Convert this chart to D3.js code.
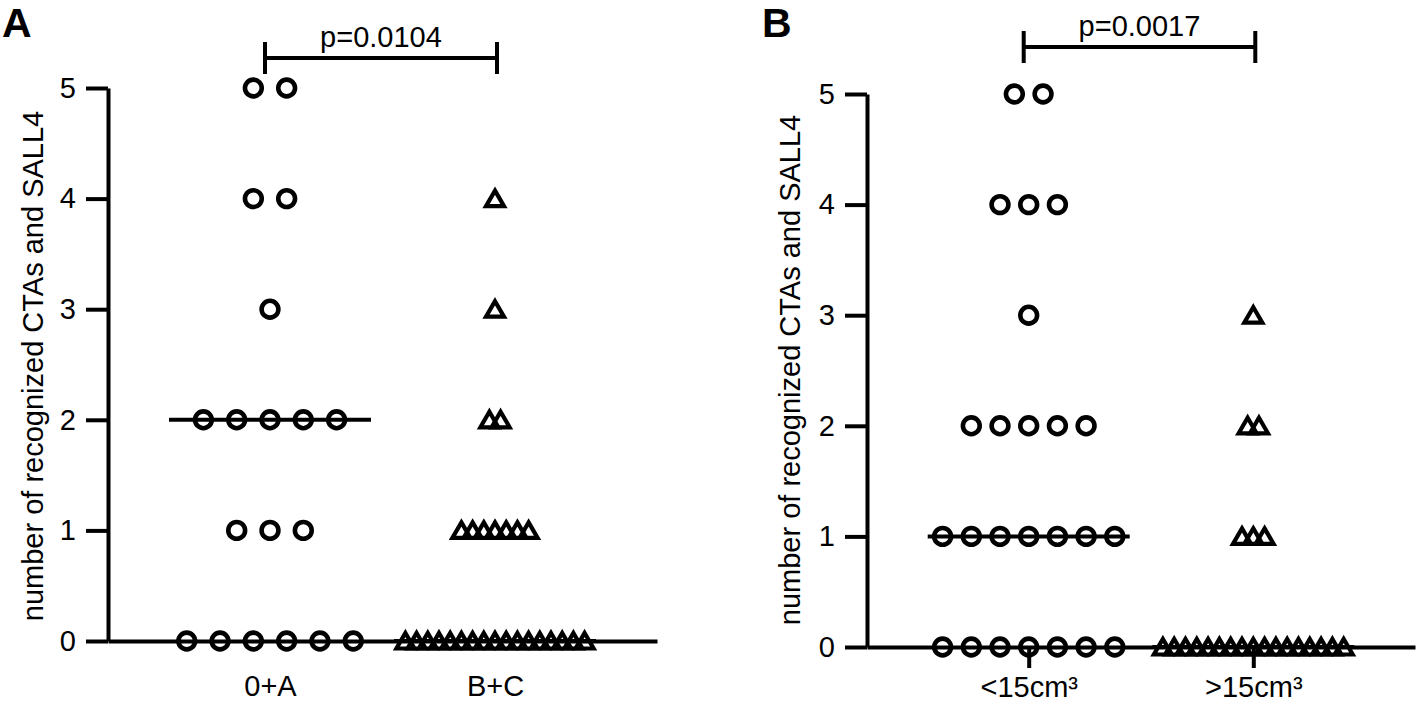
<!DOCTYPE html>
<html>
<head>
<meta charset="utf-8">
<script src="https://cdn.jsdelivr.net/npm/d3@7"></script>
<style>
  body { margin: 0; background: #fff; }
  text { font-family: "Liberation Sans", Arial, sans-serif; fill: #000; }
</style>
</head>
<body>
<svg id="chart" width="1418" height="705"></svg>
<script>
// data
const yTicks = [0, 1, 2, 3, 4, 5];
const yLabel = "number of recognized CTAs and SALL4";

const catsA = ["0+A", "B+C"];
const pA = "p=0.0104";
const groupA1 = [0, 0, 0, 0, 0, 0, 1, 1, 1, 2, 2, 2, 2, 2, 3, 4, 4, 5, 5];
const groupA2 = [0, 0, 0, 0, 0, 0, 0, 0, 0, 0, 0, 0, 0, 0, 0, 0, 0,
                 1, 1, 1, 1, 1, 1, 1, 2, 2, 3, 4];

const catsB = ["<15cm³", ">15cm³"];
const pB = "p=0.0017";
const groupB1 = [0, 0, 0, 0, 0, 0, 0, 1, 1, 1, 1, 1, 1, 1, 2, 2, 2, 2, 2, 3, 4, 4, 4, 5, 5];
const groupB2 = [0, 0, 0, 0, 0, 0, 0, 0, 0, 0, 0, 0, 0, 0, 0, 0, 0,
                 1, 1, 1, 2, 2, 3];

const svg = d3.select("#chart");
const LW = 4;

function triPath() {
  return "M0,-8L9,7.5L-9,7.5Z";
}

function drawPanel(opt) {
  const g = svg.append("g");

  const x = d3.scalePoint()
    .domain(opt.cats)
    .range([opt.left, opt.right])
    .padding(0.72);

  const y = d3.scaleLinear()
    .domain([0, 5])
    .range([opt.bottom, opt.top]);

  // y axis
  const yAxis = g.append("g")
    .attr("transform", "translate(" + opt.left + ",0)")
    .call(d3.axisLeft(y).tickValues(yTicks).tickFormat(d3.format("d"))
      .tickSize(22).tickSizeOuter(0).tickPadding(10));
  yAxis.select(".domain").attr("stroke-width", LW);
  yAxis.selectAll(".tick line").attr("stroke-width", LW);
  yAxis.selectAll(".tick text").style("font-size", "29px");

  // x axis
  const xAxis = g.append("g")
    .attr("transform", "translate(0," + opt.bottom + ")")
    .call(d3.axisBottom(x).tickSize(opt.xTick).tickSizeOuter(0).tickPadding(opt.xPad));
  xAxis.select(".domain").attr("stroke-width", LW);
  xAxis.selectAll(".tick line").attr("stroke-width", LW);
  xAxis.selectAll(".tick text").style("font-size", "29px");

  // y label
  g.append("text")
    .attr("transform", "translate(" + opt.labelX + "," + opt.labelY + ") rotate(-90)")
    .attr("text-anchor", "middle")
    .attr("dominant-baseline", "central")
    .style("font-size", "29px")
    .text(yLabel);

  // panel letter
  g.append("text")
    .attr("x", opt.letterX)
    .attr("y", 37)
    .style("font-size", "41px")
    .style("font-weight", "bold")
    .text(opt.letter);

  // points
  opt.groups.forEach((vals, gi) => {
    const cat = opt.cats[gi];
    const cx = x(cat);
    const spacing = gi === 0 ? opt.circleStep : opt.triStep;
    const rows = d3.group(vals, v => v);
    const pts = [];
    rows.forEach((arr, v) => {
      arr.forEach((_, i) => {
        pts.push({ v: v, off: (i - (arr.length - 1) / 2) * spacing });
      });
    });

    // median line
    const med = d3.median(vals);
    g.append("line")
      .attr("x1", cx - 101).attr("x2", cx + 101)
      .attr("y1", y(med)).attr("y2", y(med))
      .attr("stroke", "#000").attr("stroke-width", LW);

    if (gi === 0) {
      g.selectAll(null).data(pts).enter().append("circle")
        .attr("cx", d => cx + d.off)
        .attr("cy", d => y(d.v))
        .attr("r", 8.4)
        .attr("fill", "none")
        .attr("stroke", "#000")
        .attr("stroke-width", 4.6);
    } else {
      g.selectAll(null).data(pts).enter().append("path")
        .attr("d", triPath())
        .attr("transform", d => "translate(" + (cx + d.off) + "," + y(d.v) + ")")
        .attr("fill", "none")
        .attr("stroke", "#000")
        .attr("stroke-width", 4.2)
        .attr("stroke-linejoin", "miter");
    }
  });

  // significance bracket
  const bx1 = x(opt.cats[0]) - 5;
  const bx2 = x(opt.cats[1]) + 2;
  g.append("path")
    .attr("d", "M" + bx1 + "," + (opt.brY - 16) + "V" + (opt.brY + 16) +
      "M" + bx1 + "," + opt.brY + "H" + bx2 +
      "M" + bx2 + "," + (opt.brY - 16) + "V" + (opt.brY + 16))
    .attr("fill", "none")
    .attr("stroke", "#000")
    .attr("stroke-width", LW);
  g.append("text")
    .attr("x", (bx1 + bx2) / 2)
    .attr("y", opt.brY - 11)
    .attr("text-anchor", "middle")
    .style("font-size", "29px")
    .text(opt.p);
}

drawPanel({
  letter: "A", letterX: 2,
  cats: catsA, groups: [groupA1, groupA2], p: pA,
  left: 108, right: 657, top: 88, bottom: 641,
  labelX: 33, labelY: 366,
  xTick: 0, xPad: 34,
  circleStep: 33.3, triStep: 11.2,
  brY: 58
});

drawPanel({
  letter: "B", letterX: 762,
  cats: catsB, groups: [groupB1, groupB2], p: pB,
  left: 867, right: 1415, top: 94, bottom: 647,
  labelX: 790, labelY: 370,
  xTick: 21, xPad: 8,
  circleStep: 28.7, triStep: 11.3,
  brY: 47
});
</script>
</body>
</html>
